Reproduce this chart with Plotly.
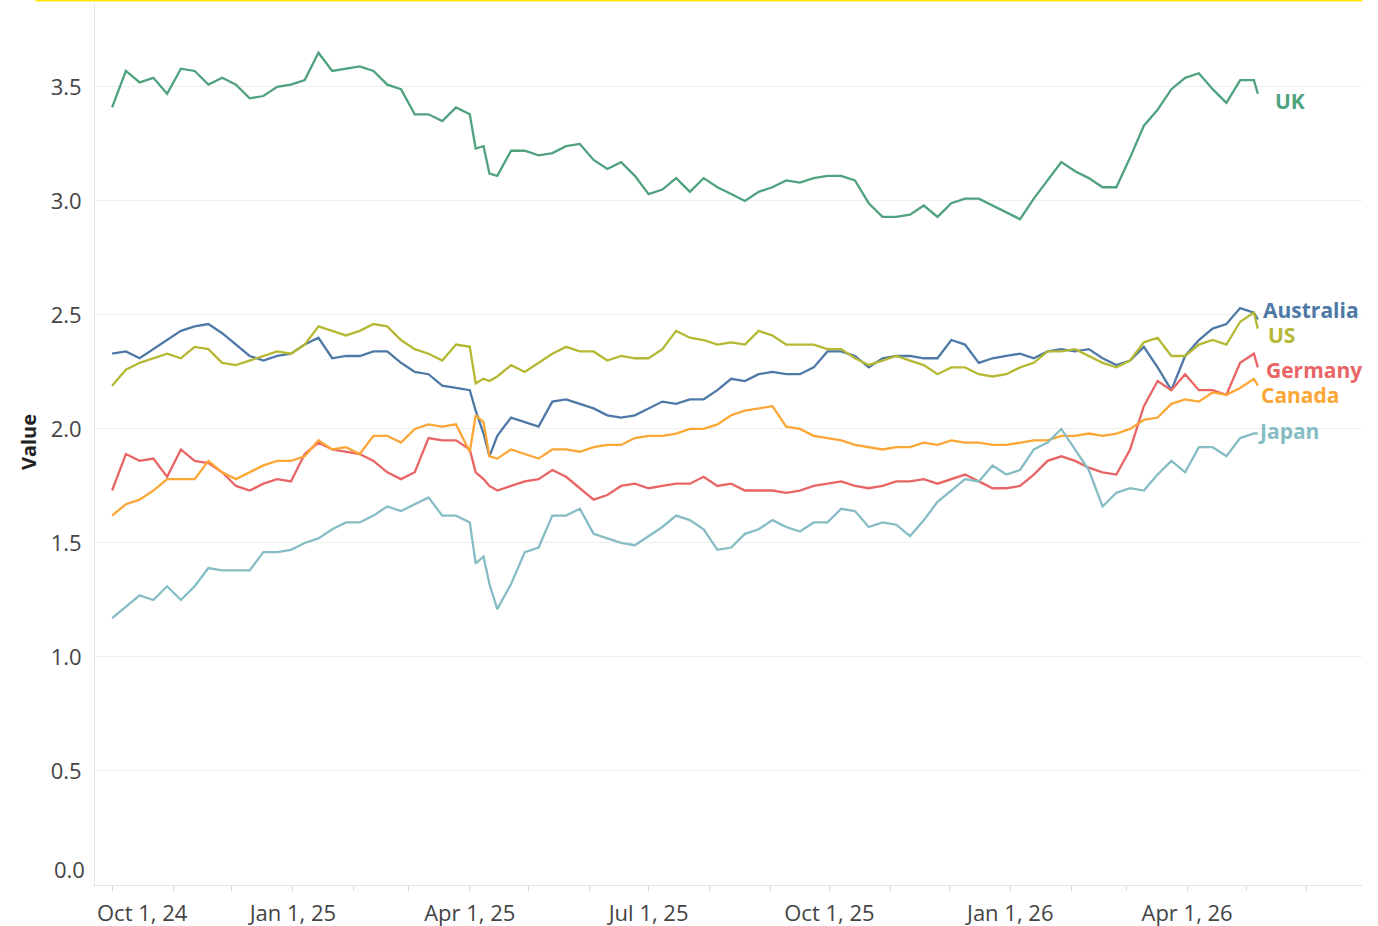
import pandas as pd
import plotly.graph_objects as go

# weekly observation dates plus a few extra dates around the April 2025 shock
weekly = list(pd.date_range("2024-10-01", "2026-05-05", freq="7D"))
extra = [pd.Timestamp("2025-04-04"), pd.Timestamp("2025-04-11"), pd.Timestamp("2026-05-07")]
dates = sorted(weekly + extra)

uk = [3.41, 3.57, 3.52, 3.54, 3.47, 3.58, 3.57, 3.51, 3.54, 3.51, 3.45, 3.46, 3.50, 3.51, 3.53, 3.65, 3.57, 3.58,
      3.59, 3.57, 3.51, 3.49, 3.38, 3.38, 3.35, 3.41, 3.38,
      3.23, 3.24, 3.12, 3.11,
      3.22, 3.22, 3.20, 3.21, 3.24, 3.25, 3.18, 3.14, 3.17, 3.11, 3.03, 3.05, 3.10, 3.04, 3.10, 3.06, 3.03, 3.00,
      3.04, 3.06, 3.09, 3.08, 3.10, 3.11, 3.11, 3.09, 2.99, 2.93, 2.93, 2.94, 2.98, 2.93, 2.99, 3.01, 3.01, 2.98,
      2.95, 2.92, 3.01, 3.09, 3.17,
      3.13, 3.10, 3.06, 3.06, 3.19, 3.33, 3.40, 3.49, 3.54, 3.56, 3.49, 3.43, 3.53, 3.53,
      3.47]

australia = [2.33, 2.34, 2.31, 2.35, 2.39, 2.43, 2.45, 2.46, 2.42, 2.37, 2.32, 2.30, 2.32, 2.33, 2.37, 2.40, 2.31,
             2.32, 2.32, 2.34, 2.34, 2.29, 2.25,
             2.24, 2.19, 2.18, 2.17,
             2.08, 1.98, 1.88, 1.97,
             2.05, 2.03, 2.01, 2.12, 2.13, 2.11, 2.09, 2.06, 2.05, 2.06, 2.09, 2.12, 2.11, 2.13, 2.13, 2.17, 2.22, 2.21,
             2.24, 2.25, 2.24, 2.24, 2.27, 2.34, 2.34, 2.32, 2.27, 2.31, 2.32, 2.32, 2.31, 2.31, 2.39, 2.37, 2.29,
             2.31, 2.32, 2.33, 2.31, 2.34, 2.35, 2.34,
             2.35, 2.31, 2.28, 2.30, 2.36, 2.27, 2.17, 2.32, 2.39, 2.44, 2.46, 2.53, 2.51,
             2.48]

us = [2.19, 2.26, 2.29, 2.31, 2.33, 2.31, 2.36, 2.35, 2.29, 2.28, 2.30, 2.32, 2.34, 2.33, 2.37, 2.45, 2.43, 2.41,
      2.43, 2.46, 2.45, 2.39, 2.35,
      2.33, 2.30, 2.37, 2.36,
      2.20, 2.22, 2.21, 2.23,
      2.28, 2.25, 2.29, 2.33, 2.36, 2.34, 2.34, 2.30, 2.32, 2.31, 2.31, 2.35, 2.43, 2.40, 2.39, 2.37, 2.38, 2.37,
      2.43, 2.41, 2.37, 2.37, 2.37, 2.35, 2.35, 2.31, 2.28, 2.30, 2.32, 2.30, 2.28, 2.24, 2.27, 2.27, 2.24, 2.23,
      2.24, 2.27, 2.29, 2.34, 2.34, 2.35,
      2.32, 2.29, 2.27, 2.30, 2.38, 2.40, 2.32, 2.32, 2.37, 2.39, 2.37, 2.47, 2.51,
      2.44]

germany = [1.73, 1.89, 1.86, 1.87, 1.79, 1.91, 1.86, 1.85, 1.81, 1.75, 1.73, 1.76, 1.78, 1.77, 1.89, 1.94, 1.91,
           1.90, 1.89, 1.86, 1.81, 1.78, 1.81,
           1.96, 1.95, 1.95, 1.91,
           1.81, 1.78, 1.75, 1.73,
           1.75, 1.77, 1.78, 1.82, 1.79, 1.74, 1.69, 1.71, 1.75, 1.76, 1.74, 1.75, 1.76, 1.76, 1.79, 1.75, 1.76, 1.73,
           1.73, 1.73, 1.72, 1.73, 1.75, 1.76, 1.77, 1.75, 1.74, 1.75, 1.77, 1.77, 1.78, 1.76, 1.78, 1.80, 1.77,
           1.74, 1.74, 1.75, 1.80, 1.86, 1.88, 1.86,
           1.83, 1.81, 1.80, 1.91, 2.10, 2.21, 2.17, 2.24, 2.17, 2.17, 2.15, 2.29, 2.33,
           2.27]

canada = [1.62, 1.67, 1.69, 1.73, 1.78, 1.78, 1.78, 1.86, 1.81, 1.78, 1.81, 1.84, 1.86, 1.86, 1.88, 1.95, 1.91,
          1.92, 1.89, 1.97, 1.97, 1.94, 2.00,
          2.02, 2.01, 2.02, 1.90,
          2.06, 2.03, 1.88, 1.87,
          1.91, 1.89, 1.87, 1.91, 1.91, 1.90, 1.92, 1.93, 1.93, 1.96, 1.97, 1.97, 1.98, 2.00, 2.00, 2.02, 2.06, 2.08,
          2.09, 2.10, 2.01, 2.00, 1.97, 1.96, 1.95, 1.93, 1.92, 1.91, 1.92, 1.92, 1.94, 1.93, 1.95, 1.94, 1.94,
          1.93, 1.93, 1.94, 1.95, 1.95, 1.97, 1.97,
          1.98, 1.97, 1.98, 2.00, 2.04, 2.05, 2.11, 2.13, 2.12, 2.16, 2.15, 2.18, 2.22,
          2.19]

japan = [1.17, 1.22, 1.27, 1.25, 1.31, 1.25, 1.31, 1.39, 1.38, 1.38, 1.38, 1.46, 1.46, 1.47, 1.50, 1.52, 1.56,
         1.59, 1.59, 1.62, 1.66, 1.64, 1.67,
         1.70, 1.62, 1.62, 1.59,
         1.41, 1.44, 1.32, 1.21,
         1.32, 1.46, 1.48, 1.62, 1.62, 1.65, 1.54, 1.52, 1.50, 1.49, 1.53, 1.57, 1.62, 1.60, 1.56, 1.47, 1.48, 1.54,
         1.56, 1.60, 1.57, 1.55, 1.59, 1.59, 1.65, 1.64, 1.57, 1.59, 1.58, 1.53, 1.60, 1.68, 1.73, 1.78, 1.77,
         1.84, 1.80, 1.82, 1.91, 1.94, 2.00, 1.91,
         1.82, 1.66, 1.72, 1.74, 1.73, 1.80, 1.86, 1.81, 1.92, 1.92, 1.88, 1.96, 1.98,
         1.98]

series_names = ["UK", "Australia", "US", "Germany", "Canada", "Japan"]
series_values = [uk, australia, us, germany, canada, japan]
series_colors = ["#4fa27d", "#4e79a7", "#b5b833", "#e96565", "#fca636", "#86bdc4"]
label_xshift = [15, 3, 8, 6, 1, -2]
label_y = [3.44, 2.52, 2.41, 2.26, 2.15, 1.99]

x_tick_vals = ["2024-10-01", "2025-01-01", "2025-04-01", "2025-07-01", "2025-10-01", "2026-01-01", "2026-04-01"]
x_tick_text = ["Oct 1, 24", "Jan 1, 25", "Apr 1, 25", "Jul 1, 25", "Oct 1, 25", "Jan 1, 26", "Apr 1, 26"]
y_tick_vals = [0.5, 1.0, 1.5, 2.0, 2.5, 3.0, 3.5]

FONT = "Open Sans"
TICK_SIZE = 22
TICK_COLOR = "#444444"

fig = go.Figure()
for name, vals, col in zip(series_names, series_values, series_colors):
    fig.add_trace(go.Scatter(x=dates, y=vals, mode="lines", name=name,
                             line=dict(color=col, width=2.3), showlegend=False))

annotations = []
for name, col, xs, yv in zip(series_names, series_colors, label_xshift, label_y):
    annotations.append(dict(x=dates[-1], y=yv, xref="x", yref="y", text=f"<b>{name}</b>",
                            showarrow=False, xanchor="left", yanchor="middle", xshift=xs,
                            font=dict(family=FONT, size=21, color=col)))
# first x label (left-shifted like the original) and the 0.0 y label
annotations.append(dict(x=x_tick_vals[0], y=0, xref="x", yref="paper", text=x_tick_text[0],
                        showarrow=False, xanchor="left", yanchor="middle", xshift=-17, yshift=-27,
                        font=dict(family=FONT, size=TICK_SIZE, color=TICK_COLOR)))
annotations.append(dict(x=0, y=0, xref="paper", yref="y", text="0.0", showarrow=False,
                        xanchor="right", yanchor="middle", xshift=-8, yshift=16,
                        font=dict(family=FONT, size=TICK_SIZE, color=TICK_COLOR)))
annotations.append(dict(x=-0.053, y=0.502, xref="paper", yref="paper", text="<b>Value</b>",
                        textangle=-90, showarrow=False, xanchor="center", yanchor="middle",
                        font=dict(family=FONT, size=20, color="#222")))

fig.update_layout(
    width=1378, height=926,
    margin=dict(l=95, r=16, t=3, b=41, autoexpand=False),
    paper_bgcolor="white", plot_bgcolor="white",
    font=dict(family=FONT, size=TICK_SIZE, color=TICK_COLOR),
    annotations=annotations,
    shapes=[dict(type="line", xref="paper", yref="paper", x0=-0.047, x1=1.0, y0=1.0028, y1=1.0028,
                 line=dict(color="#ffe500", width=2))],
)
fig.update_xaxes(
    type="date", range=["2024-09-22 07:00", "2026-06-29"], automargin=False,
    tickvals=x_tick_vals, ticktext=[""] + x_tick_text[1:],
    ticks="outside", ticklen=5, tickcolor="#d6d6d6", ticklabelstandoff=4,
    tickfont=dict(family=FONT, size=TICK_SIZE, color=TICK_COLOR),
    showgrid=False, showline=True, linecolor="#e3e3e3", linewidth=1,
    minor=dict(ticks="outside", ticklen=5, tickcolor="#d6d6d6", dtick="M1", tick0="2024-09-01", showgrid=False),
    zeroline=False,
)
fig.update_yaxes(
    range=[0, 3.868], automargin=False, tickvals=y_tick_vals, ticktext=[f"{v:.1f}" for v in y_tick_vals],
    ticks="", ticklabelstandoff=8,
    tickfont=dict(family=FONT, size=TICK_SIZE, color=TICK_COLOR),
    showgrid=True, gridcolor="#eeeeee", gridwidth=1,
    showline=True, linecolor="#e6e6e6", linewidth=1, zeroline=False,
)

fig.write_html("out.html", config={"displayModeBar": False},
               post_script="document.body.style.margin='0';document.body.style.overflow='hidden';")
